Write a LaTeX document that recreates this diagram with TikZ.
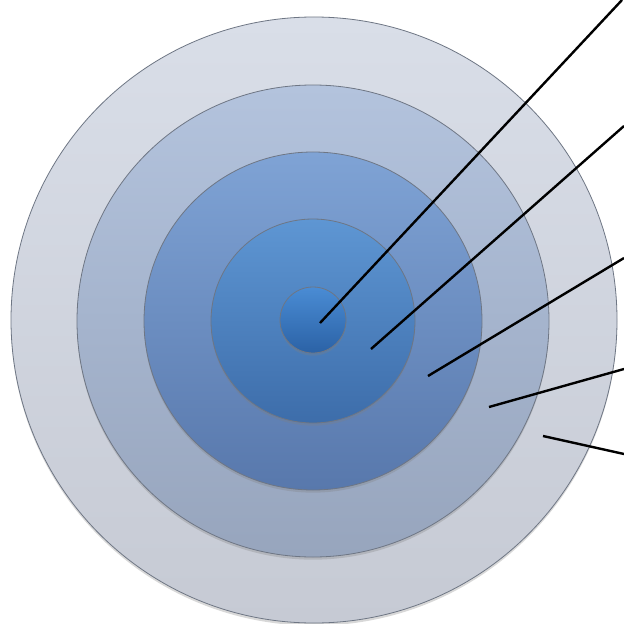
\documentclass[tikz,border=0pt]{standalone}
\usetikzlibrary{shadows}
\definecolor{r1t}{HTML}{D9DEE8}
\definecolor{r1b}{HTML}{C6CAD4}
\definecolor{r2t}{HTML}{B3C3DD}
\definecolor{r2b}{HTML}{97A5BD}
\definecolor{r3t}{HTML}{7FA3D5}
\definecolor{r3b}{HTML}{5878AC}
\definecolor{r4t}{HTML}{5E96D3}
\definecolor{r4b}{HTML}{3D6DAA}
\definecolor{r5t}{HTML}{4A8CD4}
\definecolor{r5b}{HTML}{2B62A6}
\definecolor{rim}{HTML}{6E7684}
\tikzset{
  ring/.style={circle, inner sep=0pt, draw=rim, line width=0.6pt,
    drop shadow={opacity=0.3, shadow xshift=0pt, shadow yshift=-2pt}},
  pointer/.style={draw=black, line width=1.8pt}
}
\begin{document}
\begin{tikzpicture}[x=0.75pt, y=-0.75pt]
\useasboundingbox (0,0) rectangle (624,624);
\fill[white] (0,0) rectangle (624,624);
\node[ring, minimum size=454.5pt, top color=r1t, bottom color=r1b] (c1) at (314,320) {};
\node[ring, minimum size=354pt, top color=r2t, bottom color=r2b] (c2) at (313,321) {};
\node[ring, minimum size=253.5pt, top color=r3t, bottom color=r3b] (c3) at (313,321) {};
\node[ring, minimum size=153pt, top color=r4t, bottom color=r4b] (c4) at (313,321) {};
\node[ring, minimum size=49.5pt, top color=r5t, bottom color=r5b] (c5) at (313,320) {};
\coordinate (p1) at (320,323);
\coordinate (p2) at (371,349);
\coordinate (p3) at (428,376);
\coordinate (p4) at (489,407);
\coordinate (p5) at (543,436);
\coordinate (e1) at (622,0);
\coordinate (e2) at (624,126);
\coordinate (e3) at (624,258);
\coordinate (e4) at (624,369);
\coordinate (e5) at (624,454);
\draw[pointer] (p1) -- (e1);
\draw[pointer] (p2) -- (e2);
\draw[pointer] (p3) -- (e3);
\draw[pointer] (p4) -- (e4);
\draw[pointer] (p5) -- (e5);
\end{tikzpicture}
\end{document}
